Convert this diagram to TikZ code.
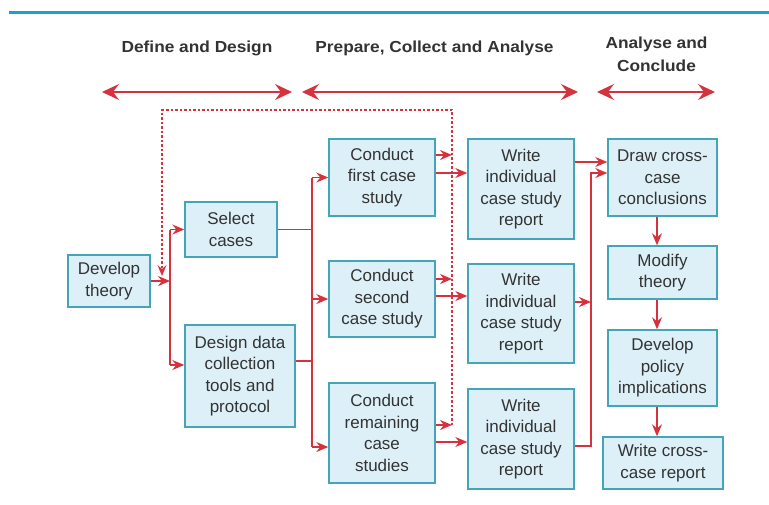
\documentclass[tikz,border=0pt]{standalone}
\usepackage{fontspec}
\setmainfont{Liberation Sans}
\newfontfamily\headfont{Liberation Sans}[FakeStretch=1.08]
\usetikzlibrary{arrows.meta,calc}
\definecolor{boxfill}{HTML}{DDF0F7}
\definecolor{boxline}{HTML}{45A5B8}
\definecolor{arrred}{HTML}{D6323D}
\definecolor{txt}{HTML}{333333}
\definecolor{topblue}{HTML}{1AA0D2}
\begin{document}
\begin{tikzpicture}[x=1pt,y=-1pt,
 box/.style={draw=boxline,fill=boxfill,line width=1.4pt,inner sep=0pt,align=center,text=txt,font=\fontsize{17}{21.5}\selectfont},
 conn/.style={draw=arrred,line width=1.4pt},
 arr/.style={conn,-{Stealth[length=12pt,width=10pt,inset=4pt]}},
 dashline/.style={draw=arrred,line width=1.1pt,dash pattern=on 2.5pt off 2pt},
 phase/.style={draw=arrred,line width=1.7pt,{Stealth[length=17pt,width=16pt,inset=6pt]}-{Stealth[length=17pt,width=16pt,inset=6pt]}},
 head/.style={font=\headfont\bfseries\fontsize{16}{23}\selectfont,text=txt,align=center}
]
\useasboundingbox (0,0) rectangle (769,504);
\fill[white] (0,0) rectangle (769,504);
% top rule
\coordinate (tl) at (9,12);
\coordinate (tr) at (769,12);
\draw[topblue,line width=3pt] (tl) -- (tr);
% headers
\node[head] (t1) at (197,48) {Define and Design};
\node[head] (t2) at (434.5,48) {Prepare, Collect and Analyse};
\node[head] (t3) at (656.5,54) {Analyse and\\Conclude};
\coordinate (h1a) at (102,92); \coordinate (h1b) at (292,92);
\coordinate (h2a) at (302,92); \coordinate (h2b) at (578,92);
\coordinate (h3a) at (597,92); \coordinate (h3b) at (715,92);
\draw[phase] (h1a) -- (h1b);
\draw[phase] (h2a) -- (h2b);
\draw[phase] (h3a) -- (h3b);
% boxes
\node[box,minimum width=82pt,minimum height=52pt] (dev) at (109,281) {Develop\\theory};
\node[box,minimum width=92pt,minimum height=55pt] (sel) at (231,229.5) {Select\\cases};
\node[box,minimum width=110pt,minimum height=102pt] (des) at (240,376) {Design data\\collection\\tools and\\protocol};
\node[box,minimum width=106pt,minimum height=77pt] (c1) at (382,177.5) {Conduct\\first case\\study};
\node[box,minimum width=106pt,minimum height=76pt] (c2) at (382,299) {Conduct\\second\\case study};
\node[box,minimum width=106pt,minimum height=100pt] (c3) at (382,433) {Conduct\\remaining\\case\\studies};
\node[box,minimum width=106pt,minimum height=100pt] (w1) at (521,189) {Write\\individual\\case study\\report};
\node[box,minimum width=106pt,minimum height=99pt] (w2) at (521,313.5) {Write\\individual\\case study\\report};
\node[box,minimum width=106pt,minimum height=100pt] (w3) at (521,439) {Write\\individual\\case study\\report};
\node[box,minimum width=109pt,minimum height=77pt] (dr) at (662.5,177.5) {Draw cross-\\case\\conclusions};
\node[box,minimum width=109pt,minimum height=53pt] (mod) at (662.5,272.5) {Modify\\theory};
\node[box,minimum width=109pt,minimum height=76pt] (pol) at (662.5,368) {Develop\\policy\\implications};
\node[box,minimum width=120pt,minimum height=52pt] (rep) at (663,463) {Write cross-\\case report};
% junction columns
\coordinate (jA) at (170,0);
\coordinate (jB) at (312,0);
\coordinate (dx) at (452,0);
\coordinate (jC) at (591,0);
% develop theory -> select / design
\draw[arr] (dev.east) -- (dev.east -| jA);
\coordinate (desin) at ([yshift=11pt]des.west);
\draw[conn] (jA |- sel.west) -- (jA |- desin);
\draw[arr] (jA |- sel.west) -- (sel.west);
\draw[arr] (jA |- desin) -- (desin);
% select / design -> conduct
\coordinate (desout) at ([yshift=15pt]des.east);
\coordinate (c3in) at ([yshift=-14pt]c3.west);
\draw[conn] (sel.east) -- (sel.east -| jB);
\draw[conn] (desout) -- (desout -| jB);
\draw[conn] (jB |- c1.west) -- (jB |- c3in);
\draw[arr] (jB |- c1.west) -- (c1.west);
\draw[arr] (jB |- c2.west) -- (c2.west);
\draw[arr] (jB |- c3in) -- (c3in);
% dashed feedback loop
\coordinate (c3s) at ([yshift=8pt]c3.east);
\coordinate (dtop) at (452,110);
\coordinate (dleft) at (162,110);
\coordinate (dend) at (162,276);
\draw[dashline,-{Stealth[length=11pt,width=9pt,inset=4pt]}] (c3s -| dx) -- (dtop) -- (dleft) -- (dend);
% conduct -> write (short and long arrows)
\coordinate (c1s) at ([yshift=22.5pt]c1.east);
\coordinate (c1l) at ([yshift=4.5pt]c1.east);
\coordinate (c2s) at ([yshift=20pt]c2.east);
\coordinate (c2l) at ([yshift=3pt]c2.east);
\coordinate (c3l) at ([yshift=-9pt]c3.east);
\draw[arr] (c1s) -- (c1s -| dx);
\draw[arr] (c2s) -- (c2s -| dx);
\draw[arr] (c3s) -- (c3s -| dx);
\draw[arr] (c1l) -- (c1l -| w1.west);
\draw[arr] (c2l) -- (c2l -| w2.west);
\draw[arr] (c3l) -- (c3l -| w3.west);
% write -> draw conclusions
\coordinate (w1o) at ([yshift=27pt]w1.east);
\coordinate (w2o) at ([yshift=11.5pt]w2.east);
\coordinate (w3o) at ([yshift=-7pt]w3.east);
\coordinate (drin) at ([yshift=4.5pt]dr.west);
\draw[arr] (w1o) -- (w1o -| dr.west);
\draw[arr] (w2o) -- (w2o -| jC);
\draw[arr] (w3o) -- (w3o -| jC) -- (jC |- drin) -- (drin);
% right column
\draw[arr] ([xshift=-5.5pt]dr.south) -- ([xshift=-5.5pt]dr.south |- mod.north);
\draw[arr] ([xshift=-5.5pt]mod.south) -- ([xshift=-5.5pt]mod.south |- pol.north);
\draw[arr] ([xshift=-5.5pt]pol.south) -- ([xshift=-5.5pt]pol.south |- rep.north);
\end{tikzpicture}
\end{document}
